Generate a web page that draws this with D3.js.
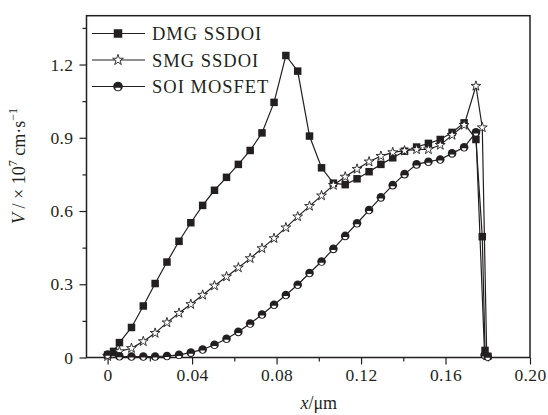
<!DOCTYPE html>
<html>
<head>
<meta charset="utf-8">
<script src="https://cdn.jsdelivr.net/npm/d3@7"></script>
<style>
  body { margin: 0; background: #fff; }
  svg { display: block; }
  text { font-family: "Liberation Serif", "Times New Roman", serif; fill: #231f20; }
</style>
</head>
<body>
<div id="chart"></div>
<script>
// x positions (um) and velocities (x 10^7 cm/s)
const dmgX = [0, 0.0028, 0.0056, 0.0113, 0.0169, 0.0225, 0.0281, 0.0338, 0.0394, 0.045, 0.0506,
  0.0563, 0.0619, 0.0675, 0.0731, 0.0788, 0.0844, 0.09, 0.0956, 0.1013, 0.1069, 0.1125, 0.1181,
  0.1238, 0.1294, 0.135, 0.1406, 0.1463, 0.1519, 0.1575, 0.1631, 0.1688, 0.1744, 0.1774, 0.1787, 0.18];
const dmgV = [0.01, 0.025, 0.061, 0.123, 0.211, 0.303, 0.391, 0.476, 0.552, 0.623, 0.685,
  0.738, 0.791, 0.848, 0.920, 1.045, 1.237, 1.173, 0.907, 0.777, 0.714, 0.708, 0.732,
  0.761, 0.791, 0.818, 0.845, 0.862, 0.877, 0.893, 0.922, 0.961, 0.893, 0.495, 0.029, 0.005];

const smgX = [0, 0.0056, 0.0113, 0.0169, 0.0225, 0.0281, 0.0338, 0.0394, 0.045, 0.0506,
  0.0563, 0.0619, 0.0675, 0.0731, 0.0788, 0.0844, 0.09, 0.0956, 0.1013, 0.1069, 0.1125, 0.1181,
  0.1238, 0.1294, 0.135, 0.1406, 0.1463, 0.1519, 0.1575, 0.1631, 0.1688, 0.1744, 0.1774, 0.1795];
const smgV = [0.005, 0.025, 0.038, 0.066, 0.1, 0.143, 0.182, 0.218, 0.256, 0.294,
  0.331, 0.368, 0.406, 0.447, 0.488, 0.532, 0.577, 0.620, 0.663, 0.706, 0.740, 0.772,
  0.802, 0.825, 0.840, 0.847, 0.852, 0.852, 0.870, 0.911, 0.952, 1.112, 0.942, 0.008];

const soiX = [0, 0.0056, 0.0113, 0.0169, 0.0225, 0.0281, 0.0338, 0.0394, 0.045, 0.0506,
  0.0563, 0.0619, 0.0675, 0.0731, 0.0788, 0.0844, 0.09, 0.0956, 0.1013, 0.1069, 0.1125, 0.1181,
  0.1238, 0.1294, 0.135, 0.1406, 0.1463, 0.1519, 0.1575, 0.1631, 0.1688, 0.1744, 0.1785, 0.18];
const soiV = [0.012, 0.005, 0.004, 0.004, 0.004, 0.006, 0.011, 0.02, 0.033, 0.052,
  0.077, 0.105, 0.139, 0.176, 0.216, 0.256, 0.298, 0.346, 0.393, 0.445, 0.498, 0.55,
  0.604, 0.656, 0.706, 0.751, 0.791, 0.802, 0.811, 0.836, 0.861, 0.922, 0.01, 0.003];

const seriesNames = ["DMG SSDOI", "SMG SSDOI", "SOI MOSFET"];
const xTicks = [0, 0.04, 0.08, 0.12, 0.16, 0.20];
const xTickLabels = ["0", "0.04", "0.08", "0.12", "0.16", "0.20"];
const xMinor = [0.02, 0.06, 0.10, 0.14, 0.18];
const yTicks = [0, 0.3, 0.6, 0.9, 1.2];
const yTickLabels = ["0", "0.3", "0.6", "0.9", "1.2"];
const yMinor = [0.15, 0.45, 0.75, 1.05, 1.35];

const W = 548, H = 415;
const ink = "#231f20";

const svg = d3.select("#chart").append("svg")
  .attr("width", W).attr("height", H);

const x = d3.scaleLinear().domain([-0.01, 0.2]).range([86.5, 530]);
const y = d3.scaleLinear().domain([0, 1.4]).range([357.5, 15.7]);

// axes
svg.append("g")
  .attr("transform", `translate(0,${y(0)})`)
  .call(d3.axisBottom(x).tickValues(xTicks).tickSize(7).tickPadding(4)
    .tickFormat((d, i) => xTickLabels[i]));
svg.append("g")
  .attr("transform", `translate(0,${y(0)})`)
  .call(d3.axisBottom(x).tickValues(xMinor).tickSize(4).tickFormat(""));

svg.append("g")
  .attr("transform", `translate(${x(-0.01)},0)`)
  .call(d3.axisLeft(y).tickValues(yTicks).tickSize(7).tickPadding(6)
    .tickFormat((d, i) => yTickLabels[i]));
svg.append("g")
  .attr("transform", `translate(${x(-0.01)},0)`)
  .call(d3.axisLeft(y).tickValues(yMinor).tickSize(4).tickFormat(""));

svg.selectAll(".domain").remove();
svg.selectAll(".tick line").attr("stroke", ink).attr("stroke-width", 1.2);
svg.selectAll(".tick text")
  .attr("font-family", '"Liberation Serif", serif')
  .attr("font-size", 17.5).attr("fill", ink)
  .attr("letter-spacing", 0.4);

// frame
svg.append("rect")
  .attr("x", x(-0.01)).attr("y", y(1.4))
  .attr("width", x(0.2) - x(-0.01)).attr("height", y(0) - y(1.4))
  .attr("fill", "none").attr("stroke", ink).attr("stroke-width", 1.5);

// axis titles
svg.append("text")
  .attr("x", x(0.1)).attr("y", 409)
  .attr("text-anchor", "middle").attr("font-size", 18)
  .call(t => {
    t.append("tspan").attr("font-style", "italic").text("x");
    t.append("tspan").text("/μm");
  });

svg.append("text")
  .attr("transform", "translate(25,166) rotate(-90)")
  .attr("text-anchor", "middle").attr("font-size", 18)
  .call(t => {
    t.append("tspan").attr("font-style", "italic").text("V");
    t.append("tspan").text(" / × 10");
    t.append("tspan").attr("font-size", 12).attr("dy", -8).text("7");
    t.append("tspan").attr("dy", 8).text(" cm·s");
    t.append("tspan").attr("font-size", 12).attr("dy", -8).text("−1");
  });

const line = d3.line().x(d => x(d[0])).y(d => y(d[1]));

const drawSquare = (g, s) => g.append("rect")
  .attr("x", -s / 2).attr("y", -s / 2).attr("width", s).attr("height", s)
  .attr("fill", ink);

const drawStar = (g, size) => g.append("path")
  .attr("d", d3.symbol(d3.symbolStar, size)())
  .attr("fill", "#fff").attr("stroke", ink).attr("stroke-width", 0.9);

const drawDot = (g, r) => {
  g.append("circle").attr("r", r).attr("fill", ink);
  g.append("path")
    .attr("d", `M${-r * 0.55},${r * 0.25} A${r * 0.55},${r * 0.55} 0 0 0 ${r * 0.55},${r * 0.25} Z`)
    .attr("fill", "#fff");
};

const series = [
  { name: seriesNames[0], pts: d3.zip(dmgX, dmgV), mark: g => drawSquare(g, 7.5) },
  { name: seriesNames[1], pts: d3.zip(smgX, smgV), mark: g => drawStar(g, 30) },
  { name: seriesNames[2], pts: d3.zip(soiX, soiV), mark: g => drawDot(g, 4.3) }
];

series.forEach(s => {
  svg.append("path")
    .datum(s.pts)
    .attr("fill", "none")
    .attr("stroke", ink)
    .attr("stroke-width", 1.2)
    .attr("d", line);
  s.pts.forEach(p => {
    const g = svg.append("g").attr("transform", `translate(${x(p[0])},${y(p[1])})`);
    s.mark(g);
  });
});

// legend
const legendRows = [33.5, 60, 86.5];
series.forEach((s, i) => {
  const ly = legendRows[i];
  svg.append("line")
    .attr("x1", 92).attr("x2", 145).attr("y1", ly).attr("y2", ly)
    .attr("stroke", ink).attr("stroke-width", 1.2);
  const g = svg.append("g").attr("transform", `translate(118,${ly})`);
  if (i === 0) drawSquare(g, 8.5);
  else if (i === 1) drawStar(g, 36);
  else drawDot(g, 4.8);
  svg.append("text")
    .attr("x", 152).attr("y", ly + 6.5)
    .attr("font-size", 18.5)
    .attr("letter-spacing", 1)
    .text(s.name);
});
</script>
</body>
</html>
